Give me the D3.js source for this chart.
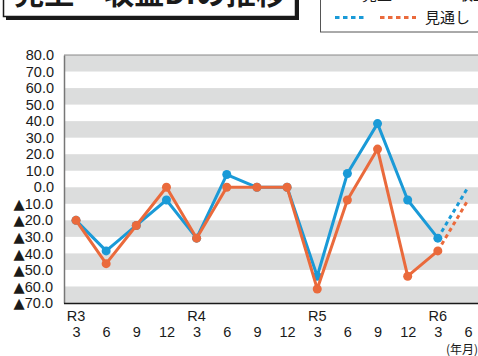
<!DOCTYPE html>
<html><head><meta charset="utf-8">
<script src="https://cdn.jsdelivr.net/npm/d3@7"></script>
<style>
html,body{margin:0;padding:0;background:#fff;}
svg{display:block;font-family:"Liberation Sans","Noto Sans CJK JP",sans-serif;}
</style></head>
<body><svg id="c" width="478" height="356"></svg>
<script>
const title = "売上・収益DIの推移";
const periods = ["R3-3","R3-6","R3-9","R3-12","R4-3","R4-6","R4-9","R4-12","R5-3","R5-6","R5-9","R5-12","R6-3","R6-6"];
const yearLabels = ["R3","","","","R4","","","","R5","","","","R6",""];
const monthLabels = ["3","6","9","12","3","6","9","12","3","6","9","12","3","6"];
const salesDI = [-20.0,-38.5,-23.1,-7.7,-30.8,7.7,0.0,0.0,-53.8,8.3,38.5,-7.7,-30.8];
const profitDI = [-20.0,-46.2,-23.1,0.0,-30.8,0.0,0.0,0.0,-61.5,-7.7,23.1,-53.8,-38.5];
const salesOutlook = [-30.8,0.0];
const profitOutlook = [-38.5,-7.7];
const yTicks = [80,70,60,50,40,30,20,10,0,-10,-20,-30,-40,-50,-60,-70];
const seriesNames = ["売上","収益","見通し"];
const unitLabel = "(年月)";

const BLUE = "#1a9ad7", ORANGE = "#ea6a3c", STRIPE = "#dcdddd";
const svg = d3.select("#c");
const x = d3.scalePoint().domain(periods).range([76,468]).padding(0);
const y = d3.scaleLinear().domain([-70,80]).range([303,55]);
const L = 64, R = 478;

// stripes
const stripeStarts = yTicks.filter(v => v < 80 && ((v + 70) / 10) % 2 === 0);
svg.append("g").selectAll("rect").data(stripeStarts).join("rect")
  .attr("x", L).attr("width", R - L)
  .attr("y", d => y(d + 10)).attr("height", d => y(d) - y(d + 10))
  .attr("fill", STRIPE);
// top border
svg.append("line").attr("x1", L).attr("x2", R).attr("y1", y(80)).attr("y2", y(80))
  .attr("stroke", "#888").attr("stroke-width", 1);

// y axis
const ya = svg.append("g").attr("transform", `translate(${L},0)`)
  .call(d3.axisLeft(y).tickValues(yTicks).tickFormat(v => Math.abs(v).toFixed(1)).tickSize(0).tickPadding(10));
ya.select(".domain").attr("stroke", "#777").attr("stroke-width", 1.5);
ya.selectAll("text").attr("font-size", 14.5).attr("fill", "#1a1a1a")
  .attr("font-family", "'Liberation Sans','Noto Sans CJK JP',sans-serif");
ya.selectAll(".tick").filter(d => d < 0).select("text").each(function(d) {
  const t = d3.select(this);
  const s = t.text();
  t.text(null);
  t.append("tspan").attr("font-family", "'DejaVu Sans'").attr("font-size", 14.5).attr("dx", -1).text("▲");
  t.append("tspan").text(s);
});

// x axis
const xa = svg.append("g").attr("transform", `translate(0,${y(-70)})`)
  .call(d3.axisBottom(x).tickFormat((d, i) => monthLabels[i]).tickSize(0).tickPadding(0));
xa.select(".domain").attr("d", `M${L},0.5H${R}`).attr("stroke", "#1a1a1a").attr("stroke-width", 1.5);
xa.selectAll("text").attr("y", 34).attr("dy", null).attr("font-size", 14.5).attr("fill", "#1a1a1a")
  .attr("font-family", "'Liberation Sans','Noto Sans CJK JP',sans-serif");
svg.append("g").selectAll("text").data(periods).join("text")
  .attr("x", d => x(d)).attr("y", 321).attr("text-anchor", "middle")
  .attr("font-size", 14.5).attr("fill", "#1a1a1a")
  .text((d, i) => yearLabels[i]);
svg.append("text").attr("x", 478).attr("y", 354).attr("text-anchor", "end")
  .attr("font-size", 12).attr("fill", "#1a1a1a")
  .attr("font-family", "'Noto Sans CJK JP',sans-serif").text(unitLabel);

// lines
const line = d3.line().x(d => x(d.p)).y(d => y(d.v));
function draw(vals, outlook, color) {
  const pts = vals.map((v, i) => ({p: periods[i], v}));
  const n = vals.length;
  const opts = outlook.map((v, i) => ({p: periods[n - 1 + i], v}));
  svg.append("path").datum(opts).attr("d", line).attr("fill", "none")
    .attr("stroke", color).attr("stroke-width", 3).attr("stroke-dasharray", "4,3.5");
  svg.append("path").datum(pts).attr("d", line).attr("fill", "none")
    .attr("stroke", color).attr("stroke-width", 3).attr("stroke-linejoin", "round");
  svg.append("g").selectAll("circle").data(pts).join("circle")
    .attr("cx", d => x(d.p)).attr("cy", d => y(d.v)).attr("r", 4.5).attr("fill", color);
}
draw(salesDI, salesOutlook, BLUE);
draw(profitDI, profitOutlook, ORANGE);

// title box
svg.append("rect").attr("x", 6).attr("y", -30).attr("width", 293).attr("height", 50).attr("fill", "#1a1a1a");
svg.append("rect").attr("x", 3.5).attr("y", -30).attr("width", 292).attr("height", 46.5)
  .attr("fill", "#fff").attr("stroke", "#1a1a1a").attr("stroke-width", 1.5);
svg.append("text").attr("x", 150).attr("y", 4).attr("text-anchor", "middle")
  .attr("font-size", 30).attr("font-weight", "bold").attr("fill", "#1a1a1a")
  .attr("font-family", "'Noto Sans CJK JP',sans-serif").text(title);

// legend
svg.append("rect").attr("x", 320.5).attr("y", -20).attr("width", 170).attr("height", 52)
  .attr("fill", "#fff").attr("stroke", "#555").attr("stroke-width", 1);
const lg = svg.append("g").attr("font-family", "'Noto Sans CJK JP',sans-serif").attr("fill", "#1a1a1a");
lg.append("line").attr("x1", 335).attr("x2", 356).attr("y1", -5).attr("y2", -5).attr("stroke", BLUE).attr("stroke-width", 3);
lg.append("text").attr("x", 362).attr("y", 0).attr("font-size", 15).text(seriesNames[0]);
lg.append("line").attr("x1", 420).attr("x2", 450).attr("y1", -5).attr("y2", -5).attr("stroke", ORANGE).attr("stroke-width", 3);
lg.append("text").attr("x", 458).attr("y", 0).attr("font-size", 15).text(seriesNames[1]);
lg.append("line").attr("x1", 335).attr("x2", 366).attr("y1", 17.5).attr("y2", 17.5).attr("stroke", BLUE).attr("stroke-width", 3).attr("stroke-dasharray", "4.5,3.5");
lg.append("line").attr("x1", 380).attr("x2", 416).attr("y1", 17.5).attr("y2", 17.5).attr("stroke", ORANGE).attr("stroke-width", 3).attr("stroke-dasharray", "4.5,3.5");
lg.append("text").attr("x", 425).attr("y", 23).attr("font-size", 15).text(seriesNames[2]);
</script></body></html>
